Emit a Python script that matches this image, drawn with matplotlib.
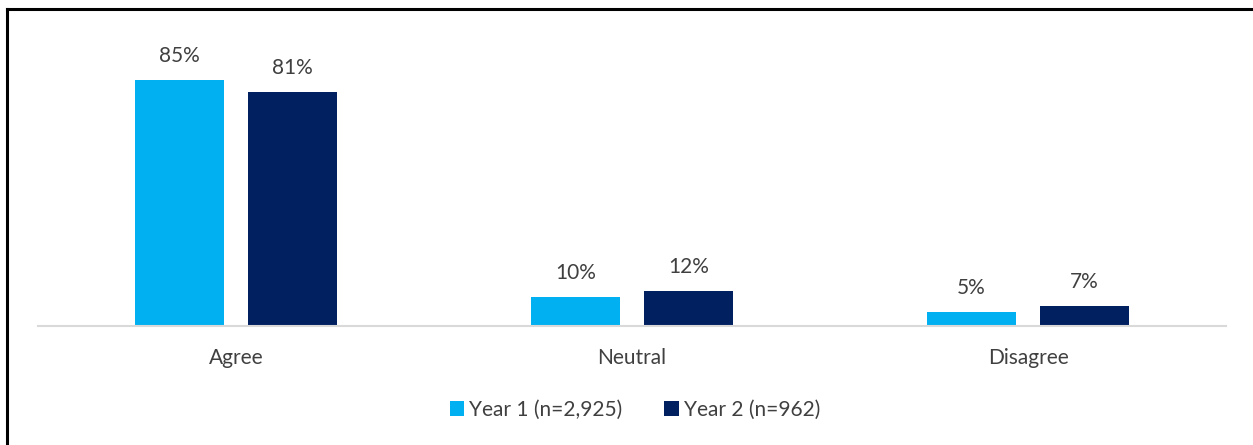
import numpy as np
import matplotlib
matplotlib.use("Agg")
import matplotlib.pyplot as plt
from matplotlib.lines import Line2D

categories = ["Agree", "Neutral", "Disagree"]
year1 = [85, 10, 5]
year2 = [81, 12, 7]
series_names = ["Year 1 (n=2,925)", "Year 2 (n=962)"]
colors = ["#00B0F0", "#002060"]

plt.rcParams['font.family'] = ['Lato', 'DejaVu Sans']

W, H = 1253, 445
fig = plt.figure(figsize=(W / 100, H / 100), dpi=100)
ax = fig.add_axes([38 / W, (H - 326) / H, (1226 - 38) / W, (326 - 37) / H])

x = np.arange(len(categories))
bw = 0.224
off = 0.1427
b1 = ax.bar(x - off, year1, bw, color=colors[0], label=series_names[0])
b2 = ax.bar(x + off, year2, bw, color=colors[1], label=series_names[1])

for bars, vals in ((b1, year1), (b2, year2)):
    for r, v in zip(bars, vals):
        ax.annotate(f"{v}%", (r.get_x() + r.get_width() / 2, v),
                    xytext=(0, 10), textcoords="offset points",
                    ha="center", va="bottom", fontsize=15, color="#404040")

ax.set_xlim(-0.5, 2.5)
ax.set_ylim(0, 100)
ax.set_xticks(x)
ax.set_xticklabels(categories, fontsize=15, color="#404040")
ax.tick_params(axis="x", length=0, pad=16)
ax.set_yticks([])
for s in ["top", "right", "left"]:
    ax.spines[s].set_visible(False)
ax.spines["bottom"].set_color("#D9D9D9")
ax.spines["bottom"].set_linewidth(1.5)

fig.legend(handles=[b1, b2], loc="center", bbox_to_anchor=(635 / W, 35 / H),
           ncol=2, frameon=False, fontsize=15, labelcolor="#404040",
           handlelength=0.7, handleheight=0.7, handletextpad=0.25,
           columnspacing=2.0)

# outer border (left and top only)
fig.add_artist(Line2D([7 / W, 7 / W], [0, 1 - 8.5 / H], transform=fig.transFigure,
                      color="black", lw=2.2))
fig.add_artist(Line2D([7 / W, 1], [1 - 8.5 / H, 1 - 8.5 / H], transform=fig.transFigure,
                      color="black", lw=2.2))

fig.savefig("out.png", dpi=100)
